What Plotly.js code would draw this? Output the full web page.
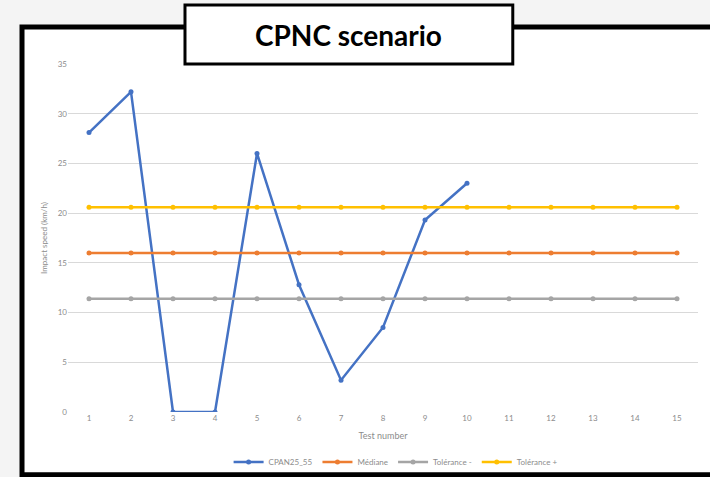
<!DOCTYPE html>
<html>
<head>
<meta charset="utf-8">
<script src="https://cdn.plot.ly/plotly-3.0.1.min.js"></script>
<style>html,body{margin:0;padding:0;background:#f4f4f4;}#chart{width:710px;height:477px;}</style>
</head>
<body>
<div id="chart"></div>
<script>
const testNumbers = [1,2,3,4,5,6,7,8,9,10,11,12,13,14,15];
const cpanTests = [1,2,3,4,5,6,7,8,9,10];
const cpanValues = [28.1,32.2,0,0,26.0,12.8,3.2,8.5,19.3,23.0];
const medianValues = [16,16,16,16,16,16,16,16,16,16,16,16,16,16,16];
const tolMinusValues = [11.4,11.4,11.4,11.4,11.4,11.4,11.4,11.4,11.4,11.4,11.4,11.4,11.4,11.4,11.4];
const tolPlusValues = [20.6,20.6,20.6,20.6,20.6,20.6,20.6,20.6,20.6,20.6,20.6,20.6,20.6,20.6,20.6];
const seriesNames = ['CPAN25_55','Médiane','Tolérance -','Tolérance +'];
const yTicks = [0,5,10,15,20,25,30,35];

function series(x, y, name, color) {
  return {x: x, y: y, name: name, type: 'scatter', mode: 'lines+markers',
    line: {color: color, width: 2.5}, marker: {color: color, size: 5}};
}
const traces = [
  series(cpanTests, cpanValues, seriesNames[0], '#4472C4'),
  series(testNumbers, medianValues, seriesNames[1], '#ED7D31'),
  series(testNumbers, tolMinusValues, seriesNames[2], '#A5A5A5'),
  series(testNumbers, tolPlusValues, seriesNames[3], '#FFC000')
];

const layout = {
  width: 710, height: 477,
  margin: {l: 68, r: 12, t: 64, b: 65, autoexpand: false},
  paper_bgcolor: '#f4f4f4',
  plot_bgcolor: 'rgba(0,0,0,0)',
  font: {family: 'Lato, "Open Sans", sans-serif', color: '#8c8c8c', size: 8},
  showlegend: true,
  legend: {orientation: 'h', x: 0.52, xanchor: 'center', y: -0.144, yanchor: 'middle',
    font: {size: 8, color: '#8c8c8c'}, bgcolor: 'rgba(0,0,0,0)', itemwidth: 30},
  xaxis: {
    range: [0.5, 15.5], tickvals: testNumbers, ticktext: testNumbers.map(String),
    showgrid: false, zeroline: false, showline: false, ticks: '', automargin: false,
    tickfont: {size: 8, color: '#8c8c8c'},
    title: {text: 'Test number', font: {size: 9, color: '#8c8c8c'}, standoff: 10}
  },
  yaxis: {
    range: [0, 35], tickvals: yTicks, showgrid: true, gridcolor: '#d9d9d9', gridwidth: 1,
    zeroline: false, showline: false, ticks: '', automargin: false,
    tickfont: {size: 8, color: '#8c8c8c'},
    title: {text: 'Impact speed (km/h)', font: {size: 8, color: '#8c8c8c'}, standoff: 8}
  },
  shapes: [
    {type: 'rect', xref: 'paper', yref: 'paper', x0: -0.073, x1: 1.04, y0: -0.18, y1: 1.106,
      fillcolor: '#ffffff', line: {color: '#000000', width: 5}, layer: 'below'},
    {type: 'rect', xref: 'paper', yref: 'paper', x0: 0.1857, x1: 0.706, y0: 1.0, y1: 1.1695,
      fillcolor: '#ffffff', line: {color: '#000000', width: 3}, layer: 'above'}
  ],
  annotations: [
    {text: '<b>CPNC scenario</b>', xref: 'paper', yref: 'paper', x: 0.446, y: 1.083,
      xanchor: 'center', yanchor: 'middle', showarrow: false,
      font: {family: 'Lato, "Open Sans", sans-serif', size: 28, color: '#000000'}}
  ]
};
Plotly.newPlot('chart', traces, layout, {displayModeBar: false, responsive: false});
</script>
</body>
</html>
